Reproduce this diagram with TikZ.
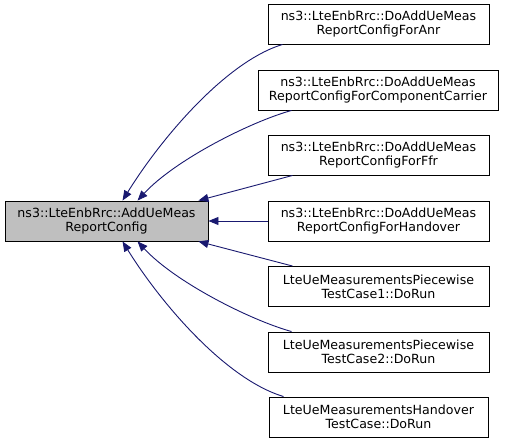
\documentclass[tikz,border=0pt]{standalone}
\usepackage{fontspec}
\setmainfont{DejaVu Sans}
\usetikzlibrary{arrows.meta,calc}
\definecolor{edgeblue}{HTML}{191970}
\definecolor{maingray}{HTML}{BFBFBF}
\tikzset{
  box/.style={draw=black, line width=0.9pt, align=center, inner sep=0pt,
    minimum height=40pt, font=\fontsize{12.6}{14}\selectfont},
  edge/.style={draw=edgeblue, line width=0.9pt, -{Triangle[length=10pt,width=8pt]}}
}
\begin{document}
\begin{tikzpicture}[x=1pt,y=-1pt]
\useasboundingbox (0,0) rectangle (507,443);
\node[box, fill=maingray, minimum width=203pt] (main) at (106.5,221) {ns3::LteEnbRrc::AddUeMeas\\ReportConfig};
\node[box, minimum width=221pt] (n1) at (378.5,24) {ns3::LteEnbRrc::DoAddUeMeas\\ReportConfigForAnr};
\node[box, minimum width=240pt] (n2) at (378,90) {ns3::LteEnbRrc::DoAddUeMeas\\ReportConfigForComponentCarrier};
\node[box, minimum width=221pt] (n3) at (378.5,155) {ns3::LteEnbRrc::DoAddUeMeas\\ReportConfigForFfr};
\node[box, minimum width=221pt] (n4) at (378.5,221) {ns3::LteEnbRrc::DoAddUeMeas\\ReportConfigForHandover};
\node[box, minimum width=221pt] (n5) at (378.5,286.5) {LteUeMeasurementsPiecewise\\TestCase1::DoRun};
\node[box, minimum width=221pt] (n6) at (378.5,352) {LteUeMeasurementsPiecewise\\TestCase2::DoRun};
\node[box, minimum width=219pt] (n7) at (378.5,417) {LteUeMeasurementsHandover\\TestCase::DoRun};
\draw[edge] ($(n1.south west)+(15,0)$) .. controls (225,62) and (160,140) .. ($(main.north west)+(118,0)$);
\draw[edge] ($(n2.south west)+(34,0)$) .. controls (250,122) and (175,160) .. ($(main.north west)+(133,0)$);
\draw[edge] ($(n3.south west)+(25,0)$) -- ($(main.north east)+(-10,0)$);
\draw[edge] (n4.west) -- (main.east);
\draw[edge] ($(n5.north west)+(25,0)$) -- ($(main.south east)+(-10,0)$);
\draw[edge] ($(n6.north west)+(24,0)$) .. controls (250,320) and (175,282) .. ($(main.south west)+(133,0)$);
\draw[edge] ($(n7.north west)+(15,0)$) .. controls (225,379) and (160,302) .. ($(main.south west)+(118,0)$);
\end{tikzpicture}
\end{document}
